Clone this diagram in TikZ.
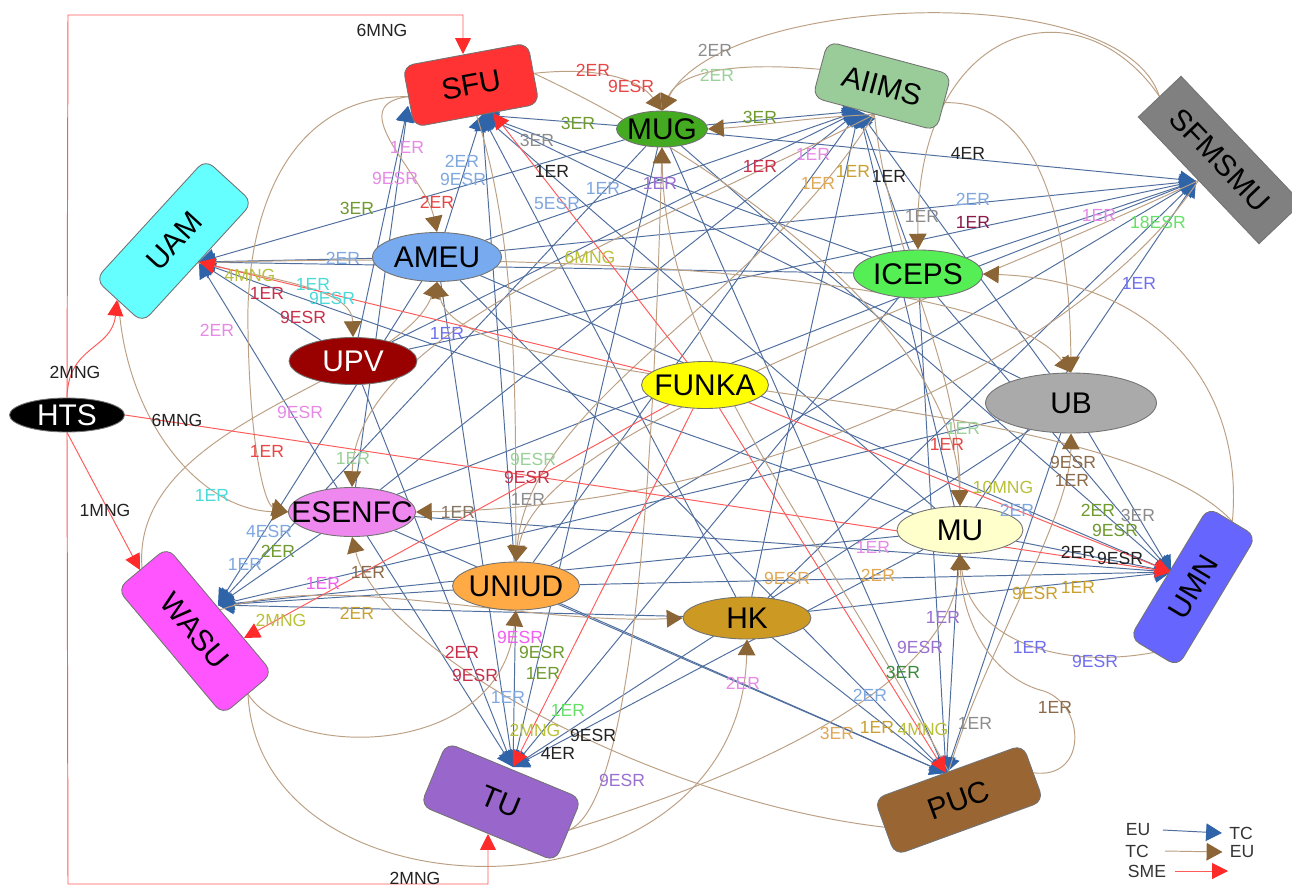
\documentclass[tikz,border=0pt]{standalone}
\usepackage{fontspec}
\setmainfont{Liberation Sans}
\usetikzlibrary{arrows.meta,shapes.geometric,backgrounds}
\definecolor{nSFU}{HTML}{FF3333}
\definecolor{nMUG}{HTML}{44AA22}
\definecolor{nAIIMS}{HTML}{99CC99}
\definecolor{nSFMSMU}{HTML}{808080}
\definecolor{nUAM}{HTML}{66FFFF}
\definecolor{nAMEU}{HTML}{77AAEE}
\definecolor{nICEPS}{HTML}{55EE55}
\definecolor{nUPV}{HTML}{990000}
\definecolor{nFUNKA}{HTML}{FFFF00}
\definecolor{nUB}{HTML}{AAAAAA}
\definecolor{nESENFC}{HTML}{EE88EE}
\definecolor{nMU}{HTML}{FFFFCC}
\definecolor{nUMN}{HTML}{6666FF}
\definecolor{nUNIUD}{HTML}{FFAA44}
\definecolor{nHK}{HTML}{CC9922}
\definecolor{nWASU}{HTML}{FF55FF}
\definecolor{nTU}{HTML}{9966CC}
\definecolor{nPUC}{HTML}{996633}
\definecolor{eblue}{HTML}{4F6E9E}
\definecolor{ablue}{HTML}{2F64A8}
\definecolor{ebrown}{HTML}{BBA084}
\definecolor{abrown}{HTML}{8C6536}
\definecolor{ered}{HTML}{FF5A5A}
\definecolor{ared}{HTML}{FF2A2A}
\definecolor{cRed}{HTML}{E84545}
\definecolor{cOlive}{HTML}{6E9A2E}
\definecolor{cLBlue}{HTML}{7FA8E0}
\definecolor{cCrim}{HTML}{C8304A}
\definecolor{cPink}{HTML}{E68AE6}
\definecolor{cCyan}{HTML}{4ADADA}
\definecolor{cLGreen}{HTML}{99D199}
\definecolor{cBGreen}{HTML}{66E066}
\definecolor{cGray}{HTML}{8C8C8C}
\definecolor{cBlack}{HTML}{222222}
\definecolor{cTan}{HTML}{E0A855}
\definecolor{cGold}{HTML}{C9A030}
\definecolor{cPurple}{HTML}{9A70D0}
\definecolor{cBrown}{HTML}{8B6A4A}
\definecolor{cBrownGray}{HTML}{857565}
\definecolor{cViolet}{HTML}{6F6FF0}
\definecolor{cYel}{HTML}{B9C03A}
\definecolor{cMaroon}{HTML}{8B1A4A}
\definecolor{cMag}{HTML}{F060F0}
\definecolor{cDGreen}{HTML}{3A8A3A}
\newcommand\zb[1]{\makebox[0pt]{#1}}
\begin{document}
\begin{tikzpicture}[x=0.02cm,y=-0.02cm,
  tcbox/.style={rectangle, rounded corners=6pt, draw=black!55, line width=0.5pt, inner sep=0pt, font=\fontsize{17}{20}\selectfont},
  tcsq/.style={rectangle, draw=black!55, line width=0.5pt, inner sep=0pt, font=\fontsize{17}{20}\selectfont},
  eun/.style={ellipse, draw=black!55, line width=0.5pt, inner sep=0pt, font=\fontsize{17}{20}\selectfont},
  bl/.style={draw=eblue, line width=0.55pt, -{Triangle[length=9pt,width=10pt,color=ablue]}},
  br/.style={draw=ebrown, line width=0.55pt, -{Triangle[length=9pt,width=10pt,color=abrown]}},
  sm/.style={draw=ered, line width=0.55pt, -{Triangle[length=9pt,width=9pt,color=ared]}},
  lab/.style={font=\fontsize{10}{12}\selectfont, text=#1, inner sep=0pt},
  leg/.style={font=\fontsize{10}{12}\selectfont, text=black!80, inner sep=0pt}]
\useasboundingbox (0,0) rectangle (1292,886);
% ---------- nodes ----------
\node[tcbox, fill=nSFU, minimum width=2.54cm, minimum height=1.24cm, rotate=10.5] (sfu) at (471,85) {SFU};
\node[eun, fill=nMUG, minimum width=1.82cm, minimum height=0.72cm] (mug) at (662,129) {\zb{MUG}};
\node[tcbox, fill=nAIIMS, minimum width=2.56cm, minimum height=1.16cm, rotate=-15] (aiims) at (882,86) {AIIMS};
\node[tcsq, fill=nSFMSMU, minimum width=3.5cm, minimum height=1.18cm, rotate=-46.4] (sfmsmu) at (1220,160) {SFMSMU};
\node[tcbox, fill=nUAM, minimum width=3.26cm, minimum height=1.28cm, rotate=47.5] (uam) at (174,241) {UAM};
\node[eun, fill=nAMEU, minimum width=2.58cm, minimum height=0.98cm] (ameu) at (437,257) {\zb{AMEU}};
\node[eun, fill=nICEPS, minimum width=2.58cm, minimum height=0.96cm] (iceps) at (918,274) {\zb{ICEPS}};
\node[eun, fill=nUPV, text=white, minimum width=2.56cm, minimum height=0.94cm] (upv) at (353,361) {\zb{UPV}};
\node[eun, fill=nFUNKA, minimum width=2.54cm, minimum height=0.94cm] (funka) at (705,385) {\zb{FUNKA}};
\node[eun, fill=nUB, minimum width=3.42cm, minimum height=1.2cm] (ub) at (1071,403) {\zb{UB}};
\node[eun, fill=black, text=white, minimum width=2.3cm, minimum height=0.68cm] (hts) at (67,415) {\zb{HTS}};
\node[eun, fill=nESENFC, minimum width=2.54cm, minimum height=0.98cm] (esenfc) at (352,512) {\zb{ESENFC}};
\node[eun, fill=nMU, minimum width=2.52cm, minimum height=0.94cm] (mu) at (960,530) {\zb{MU}};
\node[tcbox, fill=nUMN, minimum width=3.04cm, minimum height=1.12cm, rotate=59] (umn) at (1193,587) {UMN};
\node[eun, fill=nUNIUD, minimum width=2.54cm, minimum height=0.96cm] (uniud) at (516,586) {\zb{UNIUD}};
\node[eun, fill=nHK, minimum width=2.56cm, minimum height=0.84cm] (hk) at (747,618) {\zb{HK}};
\node[tcbox, fill=nWASU, minimum width=3.28cm, minimum height=1.3cm, rotate=-50] (wasu) at (195,631) {WASU};
\node[tcbox, fill=nTU, minimum width=2.92cm, minimum height=1.36cm, rotate=-22.5] (tu) at (501,802) {TU};
\node[tcbox, fill=nPUC, minimum width=3.16cm, minimum height=1.2cm, rotate=20] (puc) at (959,800) {PUC};
% ---------- arrow end points ----------
\coordinate (sfuT) at (482,115);
\coordinate (sfuL) at (408,106);
\coordinate (sfuR) at (493,113);
\coordinate (sfuTop) at (463,54);
\coordinate (aiimsT) at (859,111);
\coordinate (sfmT) at (1196,181);
\coordinate (uamT) at (199,262);
\coordinate (uamB) at (117,300);
\coordinate (wasuT) at (218,605);
\coordinate (wasuR) at (244,638);
\coordinate (wasuTL) at (140,570);
\coordinate (tuT) at (513,767);
\coordinate (tuB) at (488,834);
\coordinate (pucT) at (946,773);
\coordinate (umnT) at (1171,572);
% ---------- edges ----------
\begin{scope}[on background layer]
\fill[white] (0,0) rectangle (1292,886);
% EU -> TC
\foreach \s in {mug,ameu,ub,mu,uniud,hk,iceps} {\draw[bl] (\s) -- (sfuT);}
\foreach \s in {esenfc,upv} {\draw[bl] (\s) -- (sfuL);}
\foreach \s in {mug,upv,esenfc,uniud,hk,mu,ameu,iceps,ub} {\draw[bl] (\s) -- (aiimsT);}
\foreach \s in {mug,ameu,upv,esenfc,iceps,uniud,hk,mu} {\draw[bl] (\s) -- (sfmT);}
\foreach \s in {ameu,mug,upv,esenfc,iceps,mu} {\draw[bl] (\s) -- (uamT);}
\foreach \s in {ameu,mug,uniud,hk,mu,esenfc,ub} {\draw[bl] (\s) -- (wasuT);}
\foreach \s in {upv,mug,ameu,iceps,mu,esenfc,uniud,ub} {\draw[bl] (\s) -- (tuT);}
\foreach \s in {ameu,mug,esenfc,uniud,hk,ub,mu,iceps} {\draw[bl] (\s) -- (pucT);}
\foreach \s in {ameu,mug,ub,mu,hk,esenfc,uniud,iceps} {\draw[bl] (\s) -- (umnT);}
% TC -> EU
\draw[br] (sfu.east) .. controls (600,66) and (640,80) .. (mug.north);
\draw[br] (sfmsmu.west) .. controls (1120,-25) and (720,-5) .. (mug.north);
\draw[br] (aiims.west) .. controls (740,62) and (680,70) .. (mug.north);
\draw[br] (aiims.south) .. controls (800,118) and (760,126) .. (mug.east);
\draw[br] (sfu.west) .. controls (340,105) and (425,175) .. (ameu.north);
\draw[br] (uam.south) .. controls (280,280) and (352,290) .. (upv.north);
\draw[br] (uam.west) .. controls (125,420) and (200,510) .. (esenfc.west);
\draw[br] (sfu.west) .. controls (290,95) and (245,210) .. (248,330) .. controls (250,450) and (265,505) .. (esenfc.west);
\draw[br] (aiims.south) .. controls (650,230) and (355,330) .. (esenfc.north);
\draw[br] (puc.west) .. controls (650,800) and (380,650) .. (esenfc.south);
\draw[br] (sfmsmu.south) .. controls (1100,330) and (800,505) .. (esenfc.east);
\draw[br] (wasu.west) .. controls (130,420) and (400,380) .. (ameu.south);
\draw[br] (umn.east) .. controls (1100,380) and (460,400) .. (ameu.south);
\draw[br] (sfu.south) .. controls (520,250) and (515,420) .. (uniud.north);
\draw[br] (aiims.south) .. controls (760,300) and (530,400) .. (uniud.north);
\draw[br] (sfmsmu.south) .. controls (900,320) and (540,430) .. (uniud.north);
\draw[br] (wasu.east) .. controls (290,760) and (500,760) .. (uniud.south);
\draw[br] (wasu.east) .. controls (260,930) and (740,930) .. (hk.south);
\draw[br] (wasu.north) .. controls (330,570) and (520,625) .. (hk.west);
\draw[br] (tu.east) .. controls (640,800) and (655,400) .. (mug.south);
\draw[br] (tu.east) .. controls (700,790) and (950,700) .. (mu.south);
\draw[br] (umn.west) .. controls (1060,670) and (970,640) .. (mu.south);
\draw[br] (puc.east) .. controls (1090,780) and (1085,700) .. (1040,690) .. controls (990,675) and (962,620) .. (mu.south);
\draw[br] (puc.north) .. controls (985,650) and (1070,520) .. (ub.south);
\draw[br] (aiims.east) .. controls (1050,100) and (1070,250) .. (ub.north);
\draw[br] (uam.south) .. controls (600,250) and (1000,280) .. (ub.north);
\draw[br] (sfmsmu.west) .. controls (1080,-20) and (915,20) .. (iceps.north);
\draw[br] (umn.east) .. controls (1245,380) and (1150,280) .. (iceps.east);
\draw[br] (aiims.south) .. controls (890,260) and (960,360) .. (mu.north);
\draw[br] (sfu.east) .. controls (720,160) and (955,330) .. (mu.north);
\draw[br] (puc.north) .. controls (800,500) and (665,350) .. (mug.south);
% SME
\draw[sm] (hts.north) -- (68,15) -| (sfuTop);
\draw[sm] (hts.south) -- (68,884) -| (tuB);
\draw[sm] (hts.north) .. controls (68,345) and (112,350) .. (uamB);
\draw[sm] (hts.south) -- (wasuTL);
\draw[sm] (hts.east) -- (umnT);
\draw[sm] (funka) -- (sfuR);
\draw[sm] (funka) -- (uamT);
\draw[sm] (funka) -- (wasuR);
\draw[sm] (funka) -- (tuT);
\draw[sm] (funka) -- (pucT);
\draw[sm] (funka) -- (umnT);
\end{scope}
% ---------- labels ----------
\node[lab=cBlack] (l1) at (382,30) {6MNG};
\node[lab=cBlack] (l2) at (415,878) {2MNG};
\node[lab=cRed] (l3) at (593,70) {2ER};
\node[lab=cRed] (l4) at (631,86) {9ESR};
\node[lab=cGray] (l5) at (715,50) {2ER};
\node[lab=cLGreen] (l6) at (717,75) {2ER};
\node[lab=cOlive] (l7) at (578,123) {3ER};
\node[lab=cOlive] (l8) at (760,117) {3ER};
\node[lab=cGray] (l9) at (537,140) {3ER};
\node[lab=cBlack] (l10) at (552,171) {1ER};
\node[lab=cLBlue] (l11) at (603,188) {1ER};
\node[lab=cLBlue] (l12) at (557,203) {5ESR};
\node[lab=cPurple] (l13) at (660,183) {1ER};
\node[lab=cCrim] (l14) at (760,166) {1ER};
\node[lab=cPink] (l15) at (813,154) {1ER};
\node[lab=cTan] (l16) at (818,183) {1ER};
\node[lab=cGold] (l17) at (853,171) {1ER};
\node[lab=cBlack] (l18) at (889,176) {1ER};
\node[lab=cBlack] (l19) at (968,153) {4ER};
\node[lab=cLBlue] (l20) at (973,199) {2ER};
\node[lab=cGray] (l21) at (922,216) {1ER};
\node[lab=cMaroon] (l22) at (973,222) {1ER};
\node[lab=cPink] (l23) at (1099,215) {1ER};
\node[lab=cBGreen] (l24) at (1158,222) {18ESR};
\node[lab=cViolet] (l25) at (1139,283) {1ER};
\node[lab=cPink] (l26) at (407,147) {1ER};
\node[lab=cPink] (l27) at (395,178) {9ESR};
\node[lab=cLBlue] (l28) at (462,161) {2ER};
\node[lab=cLBlue] (l29) at (463,179) {9ESR};
\node[lab=cRed] (l30) at (437,202) {2ER};
\node[lab=cOlive] (l31) at (357,208) {3ER};
\node[lab=cLBlue] (l32) at (343,258) {2ER};
\node[lab=cYel] (l33) at (590,257) {6MNG};
\node[lab=cYel] (l34) at (250,275) {4MNG};
\node[lab=cCyan] (l35) at (313,284) {1ER};
\node[lab=cCyan] (l36) at (332,298) {9ESR};
\node[lab=cCrim] (l37) at (267,293) {1ER};
\node[lab=cCrim] (l38) at (303,317) {9ESR};
\node[lab=cPink] (l39) at (217,330) {2ER};
\node[lab=cViolet] (l40) at (447,333) {1ER};
\node[lab=cBlack] (l41) at (75,372) {2MNG};
\node[lab=cBlack] (l42) at (177,420) {6MNG};
\node[lab=cPink] (l43) at (300,412) {9ESR};
\node[lab=cRed] (l44) at (267,451) {1ER};
\node[lab=cLGreen] (l45) at (353,458) {1ER};
\node[lab=cCyan] (l46) at (212,495) {1ER};
\node[lab=cBlack] (l47) at (105,510) {1MNG};
\node[lab=cLBlue] (l48) at (269,531) {4ESR};
\node[lab=cOlive] (l49) at (278,551) {2ER};
\node[lab=cLBlue] (l50) at (245,564) {1ER};
\node[lab=cMag] (l51) at (323,583) {1ER};
\node[lab=cBrown] (l52) at (368,572) {1ER};
\node[lab=cBrownGray] (l53) at (458,512) {1ER};
\node[lab=cLGreen] (l54) at (533,459) {9ESR};
\node[lab=cCrim] (l55) at (527,477) {9ESR};
\node[lab=cGray] (l56) at (528,499) {1ER};
\node[lab=cYel] (l57) at (281,620) {2MNG};
\node[lab=cGold] (l58) at (357,613) {2ER};
\node[lab=cTan] (l59) at (787,578) {9ESR};
\node[lab=cTan] (l60) at (878,575) {2ER};
\node[lab=cPink] (l61) at (873,547) {1ER};
\node[lab=cMag] (l62) at (520,637) {9ESR};
\node[lab=cCrim] (l63) at (462,652) {2ER};
\node[lab=cOlive] (l64) at (542,652) {9ESR};
\node[lab=cCrim] (l65) at (475,675) {9ESR};
\node[lab=cOlive] (l66) at (543,673) {1ER};
\node[lab=cLBlue] (l67) at (508,697) {1ER};
\node[lab=cBGreen] (l68) at (568,710) {1ER};
\node[lab=cYel] (l69) at (535,730) {2MNG};
\node[lab=cBlack] (l70) at (593,735) {9ESR};
\node[lab=cBlack] (l71) at (558,753) {4ER};
\node[lab=cPurple] (l72) at (622,780) {9ESR};
\node[lab=cPink] (l73) at (743,683) {2ER};
\node[lab=cLGreen] (l74) at (963,428) {1ER};
\node[lab=cRed] (l75) at (947,444) {1ER};
\node[lab=cYel] (l76) at (1003,487) {10MNG};
\node[lab=cLBlue] (l77) at (1017,510) {2ER};
\node[lab=cBrown] (l78) at (1073,462) {9ESR};
\node[lab=cBrown] (l79) at (1072,480) {1ER};
\node[lab=cOlive] (l80) at (1098,510) {2ER};
\node[lab=cGray] (l81) at (1138,515) {3ER};
\node[lab=cOlive] (l82) at (1115,530) {9ESR};
\node[lab=cBlack] (l83) at (1078,552) {2ER};
\node[lab=cBlack] (l84) at (1120,558) {9ESR};
\node[lab=cGold] (l85) at (1035,593) {9ESR};
\node[lab=cGold] (l86) at (1078,587) {1ER};
\node[lab=cPurple] (l87) at (943,617) {1ER};
\node[lab=cPurple] (l88) at (920,647) {9ESR};
\node[lab=cDGreen] (l89) at (903,672) {3ER};
\node[lab=cLBlue] (l90) at (870,695) {2ER};
\node[lab=cTan] (l91) at (837,733) {3ER};
\node[lab=cGold] (l92) at (877,727) {1ER};
\node[lab=cYel] (l93) at (923,729) {4MNG};
\node[lab=cGray] (l94) at (975,723) {1ER};
\node[lab=cViolet] (l95) at (1030,647) {1ER};
\node[lab=cViolet] (l96) at (1095,661) {9ESR};
\node[lab=cBrown] (l97) at (1055,707) {1ER};
% ---------- legend ----------
\node[leg] (lgeu1) at (1138,830) {EU};
\node[leg] (lgtc1) at (1241,833) {TC};
\node[leg] (lgtc2) at (1137,851) {TC};
\node[leg] (lgeu2) at (1242,852) {EU};
\node[leg] (lgsme) at (1147,871) {SME};
\coordinate (lgend) at (1228,871);
\draw[bl] ([xshift=7pt]lgeu1.east) -- ([xshift=-4pt]lgtc1.west);
\draw[br] ([xshift=9pt]lgtc2.east) -- ([xshift=-4pt]lgeu2.west);
\draw[sm] ([xshift=5pt]lgsme.east) -- (lgend);
\end{tikzpicture}
\end{document}
